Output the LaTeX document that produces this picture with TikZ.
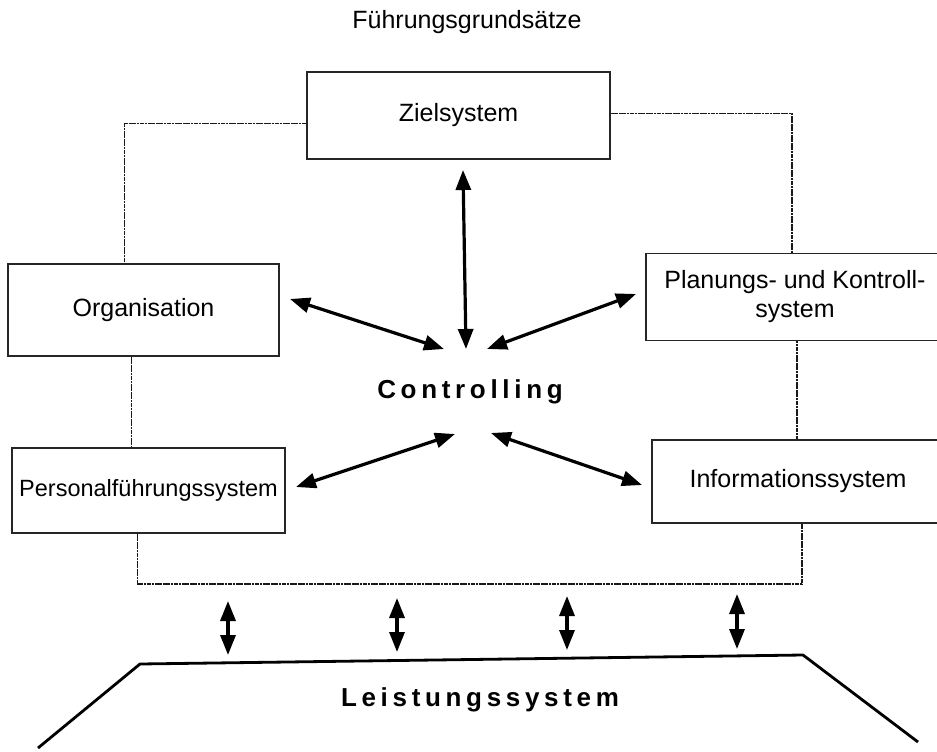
\documentclass[tikz,border=0pt]{standalone}
\usepackage{fontspec}
\setmainfont{Liberation Sans}
\usetikzlibrary{arrows.meta}
\tikzset{
  boxnode/.style={draw=black!85, line width=1.2pt, rectangle, align=center, font=\fontsize{25}{29}\selectfont, inner sep=0pt},
  framel/.style={draw=black!90, line width=1.6pt, dash pattern=on 2.2pt off 0.5pt},
  biarrow/.style={line width=3.2pt, {Triangle[length=20pt,width=15pt]}-{Triangle[length=20pt,width=15pt]}},
  spaced/.style={font=\fontsize{26}{30}\selectfont\bfseries\addfontfeature{LetterSpace=18}},
  base/.style={line width=2.8pt, line join=round}
}
\begin{document}
\begin{tikzpicture}[x=1pt,y=-1pt]
\useasboundingbox (0,0) rectangle (937,752);
\fill[white] (0,0) rectangle (937,752);
\clip (0,0) rectangle (937,752);
% title
\node[font=\fontsize{25}{28}\selectfont] (title) at (467,22) {Führungsgrundsätze};
% boxes
\node[boxnode, minimum width=303pt, minimum height=87pt] (ziel) at (458.5,115.5) {Zielsystem};
\node[boxnode, minimum width=271pt, minimum height=92pt] (org) at (143.5,310) {Organisation};
\node[boxnode, minimum width=298pt, minimum height=87pt] (plan) at (795,297) {Planungs- und Kontroll-\\system};
\node[boxnode, minimum width=273pt, minimum height=85pt, font=\fontsize{23.5}{28}\selectfont] (pers) at (148.5,490.5) {Personalführungssystem};
\node[boxnode, minimum width=292pt, minimum height=83pt] (info) at (798,481.5) {Informationssystem};
% frame
\coordinate (fb) at (470,584);
\draw[framel] ([yshift=-8pt]ziel.west) -| ([xshift=-19pt]org.north);
\draw[framel] ([yshift=2pt]ziel.east) -| ([xshift=-3pt]plan.north);
\draw[framel] ([xshift=-12pt]org.south) -- ([xshift=-12pt]org.south |- pers.north);
\draw[framel] ([xshift=2pt]plan.south) -- ([xshift=2pt]plan.south |- info.north);
\draw[framel] ([xshift=-11pt]pers.south) |- (fb) -| ([xshift=4pt]info.south);
% controlling
\node[spaced] (ctrl) at (470,392) {Controlling};
% arrow end points
\coordinate (a1s) at (463,170);
\coordinate (a1e) at (466,349);
\coordinate (a2s) at (290,299);
\coordinate (a2e) at (444,349);
\coordinate (a3s) at (487,349);
\coordinate (a3e) at (636,294);
\coordinate (a4s) at (296,487);
\coordinate (a4e) at (455,434);
\coordinate (a5s) at (491,433);
\coordinate (a5e) at (642,485);
\draw[biarrow] (a1s) -- (a1e);
\draw[biarrow] (a2s) -- (a2e);
\draw[biarrow] (a3s) -- (a3e);
\draw[biarrow] (a4s) -- (a4e);
\draw[biarrow] (a5s) -- (a5e);
% bottom arrows
\coordinate (b1s) at (228,601);
\coordinate (b1e) at (228,655);
\coordinate (b2s) at (397,598);
\coordinate (b2e) at (397,652);
\coordinate (b3s) at (567,596);
\coordinate (b3e) at (567,650);
\coordinate (b4s) at (737,594);
\coordinate (b4e) at (737,649);
\draw[biarrow] (b1s) -- (b1e);
\draw[biarrow] (b2s) -- (b2e);
\draw[biarrow] (b3s) -- (b3e);
\draw[biarrow] (b4s) -- (b4e);
% base
\coordinate (t1) at (38,748);
\coordinate (t2) at (140,664);
\coordinate (t3) at (803,655);
\coordinate (t4) at (918,742);
\draw[base] (t1) -- (t2) -- (t3) -- (t4);
\node[spaced] (leist) at (480,700) {Leistungssystem};
\end{tikzpicture}
\end{document}
